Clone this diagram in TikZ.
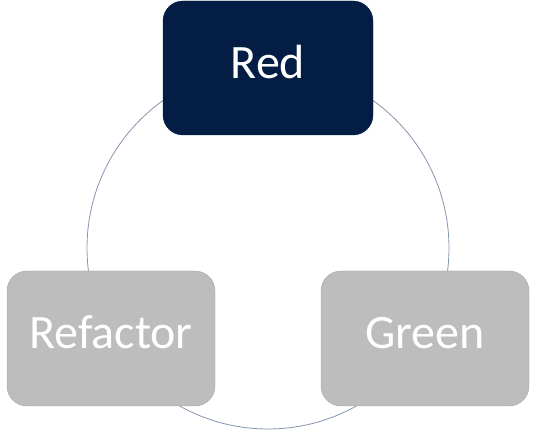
\documentclass[tikz,border=0pt]{standalone}
\usepackage{fontspec}
\setmainfont{Carlito}
\usetikzlibrary{positioning}

\definecolor{navy}{HTML}{031D44}
\definecolor{boxgray}{HTML}{BDBDBD}
\definecolor{boxedge}{HTML}{A5A5A5}
\definecolor{ringline}{HTML}{8595AE}

\tikzset{
  phase/.style={draw,rounded corners=20pt,minimum width=208pt,minimum height=135pt,
    text=white,font=\fontsize{48}{58}\selectfont,inner sep=0pt,
    text height=30pt,text depth=9pt},
  idle/.style={phase,fill=boxgray,draw=boxedge},
  active/.style={phase,fill=navy,draw=navy}
}

\begin{document}
\begin{tikzpicture}[x=1pt,y=1pt]
        \useasboundingbox (0,0) rectangle (535,433);
        \node [draw=ringline,line width=0.8pt,circle,minimum size=362pt,inner sep=0pt] at (268,185) (ring){};

        \node [active,minimum width=210pt,minimum height=134pt] at (268,365) (red){Red};
        \node [idle] at (111,94.5) (refactor){Refactor};
        \node [idle] at (425,94.5) (green){Green};
      \end{tikzpicture}
\end{document}
